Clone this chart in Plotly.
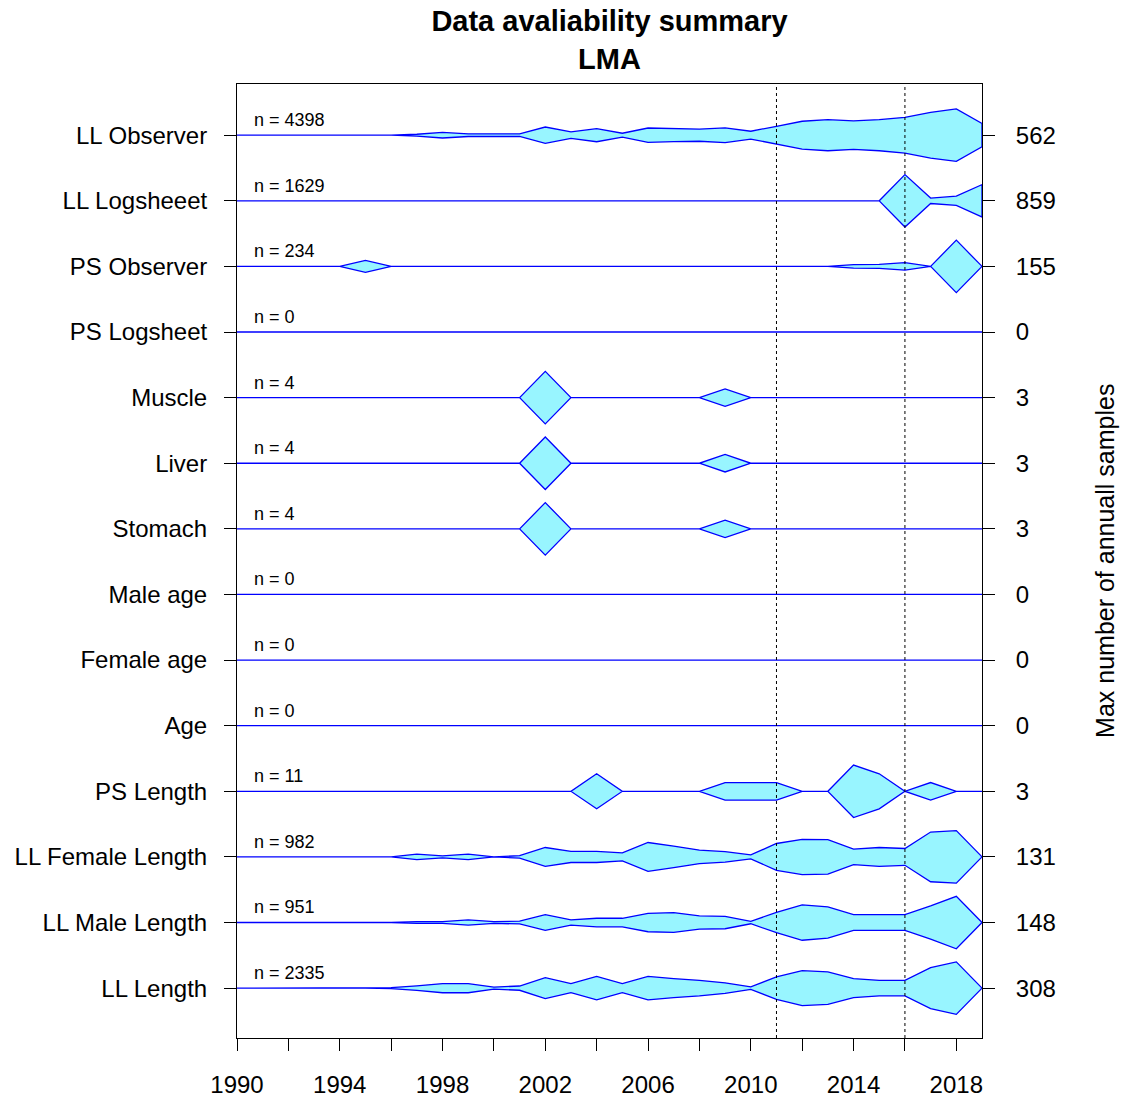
import plotly.graph_objects as go

# Annual sample counts, 1990-2019, one list per data source
years = list(range(1990, 2020))

ll_observer = [0, 0, 0, 0, 0, 0, 0, 20, 60, 28, 28, 28, 175, 70, 140, 42, 154, 137, 130, 158,
               84, 190, 298, 333, 305, 334, 382, 490, 562, 250]
ll_logsheet = [0] * 26 + [859, 90, 150, 530]
ps_observer = [0, 0, 0, 0, 0, 35, 0, 0, 0, 0, 0, 0, 0, 0, 0, 0, 0, 0, 0, 0,
               0, 0, 0, 0, 10, 12, 22, 0, 155, 0]
ps_logsheet = [0] * 30
muscle = [0] * 12 + [3] + [0] * 6 + [1] + [0] * 10
liver = [0] * 12 + [3] + [0] * 6 + [1] + [0] * 10
stomach = [0] * 12 + [3] + [0] * 6 + [1] + [0] * 10
male_age = [0] * 30
female_age = [0] * 30
age = [0] * 30
ps_length = [0, 0, 0, 0, 0, 0, 0, 0, 0, 0, 0, 0, 0, 0, 2, 0, 0, 0, 0, 1,
             1, 1, 0, 0, 3, 2, 0, 1, 0, 0]
ll_female_length = [0, 0, 0, 0, 0, 0, 0, 14, 5, 14, 0, 6, 47, 28, 28, 20, 72, 54, 34, 26,
                    10, 67, 88, 86, 39, 47, 42, 124, 131, 0]
ll_male_length = [0, 0, 0, 0, 0, 0, 0, 5, 5, 15, 5, 8, 44, 15, 24, 24, 52, 56, 37, 35,
                  7, 57, 100, 88, 44, 44, 44, 94, 148, 0]
ll_length = [0, 0, 0, 0, 0, 0, 5, 27, 54, 54, 12, 25, 123, 54, 138, 54, 138, 112, 92, 62,
             15, 131, 205, 190, 112, 92, 92, 240, 308, 0]

# Rows from top to bottom
row_labels = ["LL Observer", "LL Logsheeet", "PS Observer", "PS Logsheet", "Muscle",
              "Liver", "Stomach", "Male age", "Female age", "Age", "PS Length",
              "LL Female Length", "LL Male Length", "LL Length"]
row_series = [ll_observer, ll_logsheet, ps_observer, ps_logsheet, muscle, liver, stomach,
              male_age, female_age, age, ps_length, ll_female_length, ll_male_length,
              ll_length]
reference_years = [2011, 2016]

FONT = "Liberation Sans, Arial, sans-serif"
HALF = 0.4  # half-height of a row's band at its maximum

n_rows = len(row_labels)
positions = [n_rows - i for i in range(n_rows)]
row_max = [max(v) for v in row_series]

fig = go.Figure()
for pos, vals, peak in zip(positions, row_series, row_max):
    scale = HALF / peak if peak > 0 else 0.0
    upper = [pos + v * scale for v in vals]
    lower = [pos - v * scale for v in vals]
    fig.add_trace(go.Scatter(
        x=years + years[::-1],
        y=upper + lower[::-1],
        mode="lines",
        fill="toself",
        fillcolor="#98F5FF",
        line=dict(color="#0000FF", width=1.3),
        hoverinfo="skip",
        showlegend=False,
    ))
    fig.add_annotation(
        x=years[0] + 0.6, y=pos + 0.23, xref="x", yref="y",
        text=f"n = {sum(vals)}", showarrow=False,
        xanchor="left", yanchor="middle",
        font=dict(family=FONT, size=18, color="black"),
    )

# invisible companion trace so the right-hand axis (row maxima) is drawn
fig.add_trace(go.Scatter(
    x=[years[0]] * n_rows, y=positions, yaxis="y2", mode="markers",
    marker=dict(opacity=0, size=1), hoverinfo="skip", showlegend=False,
))

for yr in reference_years:
    fig.add_shape(type="line", x0=yr, x1=yr, y0=0, y1=1, xref="x", yref="paper",
                  line=dict(color="black", width=1, dash="dot"))

fig.add_annotation(
    x=1.165, y=0.5, xref="paper", yref="paper",
    text="Max number of annuall samples", textangle=-90, showarrow=False,
    xanchor="center", yanchor="middle",
    font=dict(family=FONT, size=25, color="black"),
)

yrange = [0.24, 14.78]
fig.update_layout(
    width=1121, height=1101,
    margin=dict(l=237, r=139, t=84, b=63, autoexpand=False),
    paper_bgcolor="white", plot_bgcolor="white",
    title=dict(
        text="<b>Data avaliability summary</b><br><b>LMA</b>",
        x=0.5, xref="paper", xanchor="center",
        y=0.972, yref="container", yanchor="top",
        font=dict(family=FONT, size=29, color="black"),
    ),
    xaxis=dict(
        range=[1990, 2019], tick0=1990, dtick=4,
        ticks="outside", ticklen=12, tickcolor="black", tickwidth=1,
        minor=dict(ticks="outside", ticklen=12, tickcolor="black", dtick=2, tick0=1990,
                   showgrid=False),
        showgrid=False, zeroline=False, automargin=False,
        showline=True, mirror=True, linecolor="black", linewidth=1,
        tickfont=dict(family=FONT, size=24, color="black"),
        ticklabelstandoff=13,
    ),
    yaxis=dict(
        range=yrange, tickvals=positions, ticktext=row_labels,
        ticks="outside", ticklen=12, tickcolor="black", tickwidth=1,
        showgrid=False, zeroline=False, automargin=False,
        showline=True, mirror=True, linecolor="black", linewidth=1,
        tickfont=dict(family=FONT, size=24, color="black"),
        ticklabelstandoff=12,
    ),
    yaxis2=dict(
        range=yrange, overlaying="y", side="right",
        tickvals=positions, ticktext=[str(m) for m in row_max],
        ticks="outside", ticklen=12, tickcolor="black", tickwidth=1,
        showgrid=False, zeroline=False, showline=False, automargin=False,
        tickfont=dict(family=FONT, size=24, color="black"),
        ticklabelstandoff=16,
    ),
)

fig.write_html("out.html")
